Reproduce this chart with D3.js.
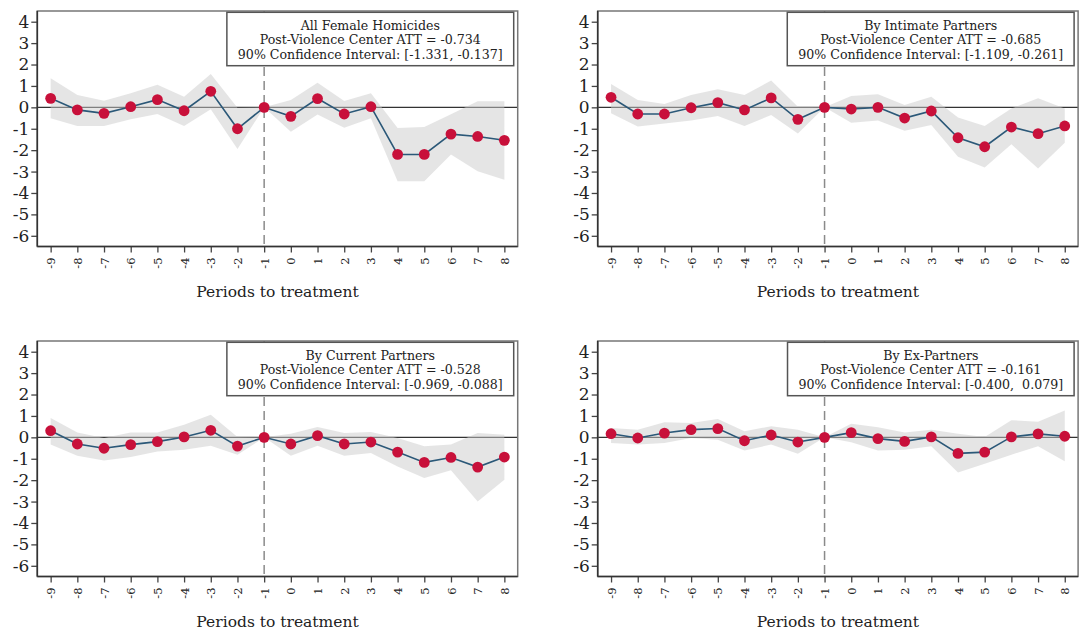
<!DOCTYPE html>
<html>
<head>
<meta charset="utf-8">
<script src="https://cdn.jsdelivr.net/npm/d3@7"></script>
<style>
  body { margin: 0; background: #fff; }
  text { font-family: "DejaVu Serif", serif; fill: #222; }
</style>
</head>
<body>
<script>
// periods relative to treatment
const periods = [-9, -8, -7, -6, -5, -4, -3, -2, -1, 0, 1, 2, 3, 4, 5, 6, 7, 8];
const yTicks = [-6, -5, -4, -3, -2, -1, 0, 1, 2, 3, 4];

const titles = ["All Female Homicides", "By Intimate Partners", "By Current Partners", "By Ex-Partners"];
const attValues = ["-0.734", "-0.685", "-0.528", "-0.161"];
const ciValues = ["[-1.331, -0.137]", "[-1.109, -0.261]", "[-0.969, -0.088]", "[-0.400,  0.079]"];

// All female homicides
const allEst = [0.42, -0.12, -0.28, 0.03, 0.36, -0.16, 0.75, -1.0, 0, -0.42, 0.41, -0.31, 0.03, -2.2, -2.2, -1.25, -1.36, -1.54];
const allHi = [1.36, 0.58, 0.31, 0.66, 1.05, 0.5, 1.56, -0.02, 0, 0.34, 1.15, 0.3, 0.66, -0.96, -0.92, -0.32, 0.28, 0.28];
const allLo = [-0.51, -0.87, -0.87, -0.56, -0.31, -0.87, -0.09, -1.95, 0, -1.14, -0.33, -0.95, -0.51, -3.45, -3.45, -2.2, -2.98, -3.38];

// intimate partners
const ipEst = [0.47, -0.31, -0.31, -0.02, 0.22, -0.12, 0.44, -0.56, 0, -0.08, 0.0, -0.5, -0.17, -1.42, -1.84, -0.92, -1.23, -0.87];
const ipHi = [1.09, 0.34, 0.16, 0.58, 0.84, 0.58, 1.25, 0.03, 0, 0.53, 0.61, 0.11, 0.5, -0.48, -0.87, -0.05, 0.42, -0.05];
const ipLo = [-0.28, -0.9, -0.75, -0.62, -0.41, -0.87, -0.36, -1.22, 0, -0.72, -0.62, -1.09, -0.83, -2.31, -2.81, -1.72, -2.86, -1.65];

// current partners
const cpEst = [0.31, -0.31, -0.51, -0.34, -0.2, 0.02, 0.33, -0.41, 0, -0.31, 0.08, -0.31, -0.22, -0.69, -1.17, -0.94, -1.39, -0.92];
const cpHi = [0.9, 0.23, -0.03, 0.23, 0.23, 0.59, 1.06, 0.02, 0, 0.17, 0.48, 0.2, 0.25, -0.03, -0.42, -0.34, 0.2, 0.12];
const cpLo = [-0.34, -0.86, -1.08, -0.92, -0.66, -0.58, -0.39, -0.81, 0, -0.86, -0.39, -0.86, -0.73, -1.36, -1.9, -1.54, -3.0, -1.98];

// ex-partners
const exEst = [0.17, -0.03, 0.2, 0.36, 0.41, -0.16, 0.11, -0.22, 0, 0.22, -0.06, -0.19, 0.02, -0.75, -0.69, 0.02, 0.16, 0.05];
const exHi = [0.44, 0.36, 0.7, 0.67, 0.86, 0.28, 0.52, 0.36, 0, 0.64, 0.47, 0.23, 0.36, 0.17, 0.02, 0.8, 0.73, 1.25];
const exLo = [-0.27, -0.34, -0.27, -0.03, -0.11, -0.61, -0.34, -0.77, 0, -0.23, -0.61, -0.58, -0.42, -1.64, -1.23, -0.81, -0.42, -1.12];

const series = [
  [allEst, allLo, allHi],
  [ipEst, ipLo, ipHi],
  [cpEst, cpLo, cpHi],
  [exEst, exLo, exHi]
];

let chart_width = 1083, chart_height = 639;
let plot_left = 37.3, plot_right = 517.7, plot_top = 11, plot_bottom = 246.5;
let offsets = [[0, 0], [560.4, 0], [0, 330], [560.4, 330]];

const svg = d3.select("body").append("svg")
  .attr("width", chart_width)
  .attr("height", chart_height);

svg.append("rect").attr("width", chart_width).attr("height", chart_height).attr("fill", "#fff");

var x = d3.scaleLinear().domain([-9.5, 8.5]).range([plot_left, plot_right]);
var y = d3.scaleLinear().domain([-6.5, 4.5]).range([plot_bottom, plot_top]);

series.forEach(function (s, i) {
  let est = s[0], lo = s[1], hi = s[2];
  let g = svg.append("g").attr("transform", "translate(" + offsets[i][0] + "," + offsets[i][1] + ")");

  // zero line
  g.append("line")
    .attr("x1", plot_left).attr("x2", plot_right)
    .attr("y1", y(0)).attr("y2", y(0))
    .style("stroke", "#333").style("stroke-width", 1.2);

  // confidence band
  var area = d3.area()
    .x(function (d, j) { return x(periods[j]); })
    .y0(function (d, j) { return y(lo[j]); })
    .y1(function (d, j) { return y(hi[j]); });
  g.append("path")
    .datum(est)
    .attr("d", area)
    .attr("fill", "#cccccc")
    .attr("fill-opacity", 0.5);

  // treatment reference line
  g.append("line")
    .attr("x1", x(-1)).attr("x2", x(-1))
    .attr("y1", plot_top).attr("y2", plot_bottom)
    .style("stroke", "#8a8a8a").style("stroke-width", 1.5)
    .style("stroke-dasharray", "9,5");

  // estimates
  var line = d3.line()
    .x(function (d, j) { return x(periods[j]); })
    .y(function (d) { return y(d); });
  g.append("path")
    .datum(est)
    .attr("d", line)
    .attr("fill", "none")
    .style("stroke", "#2b5878").style("stroke-width", 1.6);

  g.selectAll("circle")
    .data(est)
    .enter()
    .append("circle")
    .attr("cx", function (d, j) { return x(periods[j]); })
    .attr("cy", function (d) { return y(d); })
    .attr("r", 5.4)
    .attr("fill", "#c8103a");

  // frame
  g.append("rect")
    .attr("x", plot_left).attr("y", plot_top)
    .attr("width", plot_right - plot_left).attr("height", plot_bottom - plot_top)
    .attr("fill", "none")
    .style("stroke", "#777").style("stroke-width", 1.5);

  // axes
  var yAxis = g.append("g")
    .attr("transform", "translate(" + plot_left + ",0)")
    .call(d3.axisLeft(y).tickValues(yTicks).tickSize(6).tickPadding(2).tickFormat(function (d) { return String(d); }));
  yAxis.select(".domain").remove();
  yAxis.selectAll(".tick line").style("stroke", "#444").style("stroke-width", 1.3);
  yAxis.selectAll(".tick text")
    .style("font-family", '"DejaVu Serif", serif')
    .style("font-size", "17px")
    .attr("fill", "#222");

  var xAxis = g.append("g")
    .attr("transform", "translate(0," + plot_bottom + ")")
    .call(d3.axisBottom(x).tickValues(periods).tickSize(6).tickFormat(function (d) { return String(d); }));
  xAxis.select(".domain").remove();
  xAxis.selectAll(".tick line").style("stroke", "#444").style("stroke-width", 1.3);
  xAxis.selectAll(".tick text")
    .style("font-family", '"DejaVu Serif", serif')
    .style("font-size", "11.5px")
    .attr("fill", "#2a2233")
    .attr("text-anchor", "end")
    .attr("x", 0).attr("y", 0)
    .attr("dy", "0.35em")
    .attr("transform", "translate(0,11) rotate(-90)");

  g.append("line")
    .attr("x1", plot_left).attr("x2", plot_left).attr("y1", plot_top).attr("y2", plot_bottom)
    .style("stroke", "#333").style("stroke-width", 1.6);
  g.append("line")
    .attr("x1", plot_left).attr("x2", plot_right).attr("y1", plot_bottom).attr("y2", plot_bottom)
    .style("stroke", "#333").style("stroke-width", 1.6);

  g.append("text")
    .attr("x", (plot_left + plot_right) / 2)
    .attr("y", 297)
    .attr("text-anchor", "middle")
    .style("font-size", "15.5px")
    .text("Periods to treatment");

  // legend box
  var leg = g.append("g");
  var box = leg.append("rect")
    .attr("y", plot_top + 1.3)
    .attr("height", 53.4)
    .attr("fill", "#fff")
    .style("stroke", "#555").style("stroke-width", 1.5);
  var lines = [titles[i], "Post-Violence Center ATT = " + attValues[i], "90% Confidence Interval: " + ciValues[i]];
  var texts = leg.selectAll("text")
    .data(lines)
    .enter()
    .append("text")
    .attr("y", function (d, k) { return plot_top + 19 + k * 14.3; })
    .attr("text-anchor", "middle")
    .style("font-size", "12.6px")
    .style("white-space", "pre")
    .text(function (d) { return d; });
  let maxw = 0;
  texts.each(function () { maxw = Math.max(maxw, this.getComputedTextLength()); });
  let bw = maxw + 22;
  box.attr("x", plot_right - 4 - bw).attr("width", bw);
  texts.attr("x", plot_right - 4 - bw / 2);
});
</script>
</body>
</html>
